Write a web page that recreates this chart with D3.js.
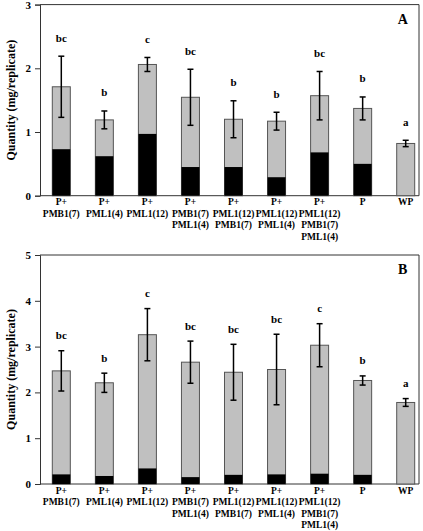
<!DOCTYPE html>
<html><head><meta charset="utf-8">
<script src="https://cdn.jsdelivr.net/npm/d3@7"></script>
<style>
html,body{margin:0;padding:0;background:#fff;}
svg{display:block;}
text{font-family:"Liberation Serif","Times New Roman",serif;font-weight:bold;fill:#000;}
</style></head>
<body>
<svg id="chart" width="423" height="531"></svg>
<script>
// ---- data ----
const categories = ["P+ PMB1(7)","P+ PML1(4)","P+ PML1(12)","P+ PMB1(7) PML1(4)","P+ PML1(12) PMB1(7)","P+ PML1(12) PML1(4)","P+ PML1(12) PMB1(7) PML1(4)","P","WP"];
const categoryLines = [["P+","PMB1(7)"],["P+","PML1(4)"],["P+","PML1(12)"],["P+","PMB1(7)","PML1(4)"],["P+","PML1(12)","PMB1(7)"],["P+","PML1(12)","PML1(4)"],["P+","PML1(12)","PMB1(7)","PML1(4)"],["P"],["WP"]];

const totalA = [1.71,1.19,2.06,1.545,1.20,1.17,1.57,1.37,0.82];
const darkA  = [0.73,0.62,0.97,0.45,0.45,0.29,0.68,0.50,0];
const errA   = [0.48,0.14,0.11,0.44,0.29,0.14,0.38,0.18,0.05];
const lettersA = ["bc","b","c","bc","b","b","bc","b","a"];
const ticksA = [0,1,2,3];

const totalB = [2.47,2.21,3.26,2.66,2.44,2.50,3.03,2.26,1.78];
const darkB  = [0.21,0.175,0.34,0.15,0.20,0.21,0.225,0.20,0];
const errB   = [0.44,0.21,0.57,0.46,0.61,0.77,0.47,0.10,0.085];
const lettersB = ["bc","b","c","bc","bc","bc","c","b","a"];
const ticksB = [0,1,2,3,4,5];

const yTitle = "Quantity (mg/replicate)";

// ---- drawing ----
const svg = d3.select("#chart");
const left = 40, right = 419;
const x = d3.scalePoint().domain(categories).range([61.3, 405.7]);
const barW = 18;

const panels = [
  {name:"A", total:totalA, dark:darkA, err:errA, letters:lettersA, ticks:ticksA, yMax:3, top:4.6, bottom:195.7, letterOff:18.5, labelTop:202},
  {name:"B", total:totalB, dark:darkB, err:errB, letters:lettersB, ticks:ticksB, yMax:5, top:255, bottom:484, letterOff:15.5, labelTop:490.5}
];

panels.forEach(p => {
  const g = svg.append("g");
  const y = d3.scaleLinear().domain([0, p.yMax]).range([p.bottom, p.top]);

  // frame
  g.append("path")
    .attr("d", `M${left},${y(p.yMax)}H${right}V${y(0)}H${left}`)
    .attr("fill","none").attr("stroke","#333").attr("stroke-width",1);

  // y axis
  const ax = g.append("g").attr("transform",`translate(${left},0)`)
    .call(d3.axisLeft(y).tickValues(p.ticks).tickFormat(d3.format("d")).tickSize(5).tickPadding(4));
  ax.select(".domain").attr("stroke","#333").attr("stroke-width",1);
  ax.selectAll(".tick line").attr("stroke","#333");
  ax.selectAll(".tick text").style("font-family","Liberation Serif, serif").style("font-weight","bold").style("font-size","11px").attr("fill","#000");

  // y title
  g.append("text")
    .attr("transform",`translate(11,${(p.top+p.bottom)/2}) rotate(-90)`)
    .attr("text-anchor","middle").attr("dominant-baseline","central")
    .style("font-size","12px").text(yTitle);

  const data = categories.map((c,i)=>({c, t:p.total[i], d:p.dark[i], e:p.err[i], l:p.letters[i], lines:categoryLines[i]}));

  // gray bars
  g.selectAll(".gbar").data(data).enter().append("rect")
    .attr("x", d=>x(d.c)-barW/2).attr("width", barW)
    .attr("y", d=>y(d.t)).attr("height", d=>y(0)-y(d.t))
    .attr("fill","#c0c0c0").attr("stroke","#555").attr("stroke-width",1);

  // dark bars
  g.selectAll(".dbar").data(data.filter(d=>d.d>0)).enter().append("rect")
    .attr("x", d=>x(d.c)-barW/2).attr("width", barW)
    .attr("y", d=>y(d.d)).attr("height", d=>y(0)-y(d.d))
    .attr("fill","#000");

  // error bars
  const eg = g.selectAll(".err").data(data).enter().append("g")
    .attr("stroke","#000").attr("stroke-width",1.5);
  eg.append("line").attr("x1",d=>x(d.c)).attr("x2",d=>x(d.c))
    .attr("y1",d=>y(d.t-d.e)).attr("y2",d=>y(d.t+d.e));
  eg.append("line").attr("x1",d=>x(d.c)-3).attr("x2",d=>x(d.c)+3)
    .attr("y1",d=>y(d.t+d.e)).attr("y2",d=>y(d.t+d.e));
  eg.append("line").attr("x1",d=>x(d.c)-3).attr("x2",d=>x(d.c)+3)
    .attr("y1",d=>y(d.t-d.e)).attr("y2",d=>y(d.t-d.e));

  // significance letters
  g.selectAll(".let").data(data).enter().append("text")
    .attr("x",d=>x(d.c)).attr("y",d=>y(d.t+d.e)-p.letterOff)
    .attr("text-anchor","middle").attr("dominant-baseline","central")
    .style("font-size","11px").text(d=>d.l);

  // panel letter
  g.append("text").attr("x",402.7).attr("y",p.top+14.5)
    .attr("text-anchor","middle").attr("dominant-baseline","central")
    .style("font-size","14px").text(p.name);

  // category labels
  const cl = g.selectAll(".cat").data(data).enter().append("text")
    .attr("text-anchor","middle").style("font-size","9.5px");
  cl.selectAll("tspan").data(d=>d.lines.map(s=>({s, c:d.c}))).enter().append("tspan")
    .attr("x",d=>x(d.c)).attr("y",(d,i)=>p.labelTop+i*11.6)
    .attr("dominant-baseline","central").text(d=>d.s);
});
</script>
</body></html>
